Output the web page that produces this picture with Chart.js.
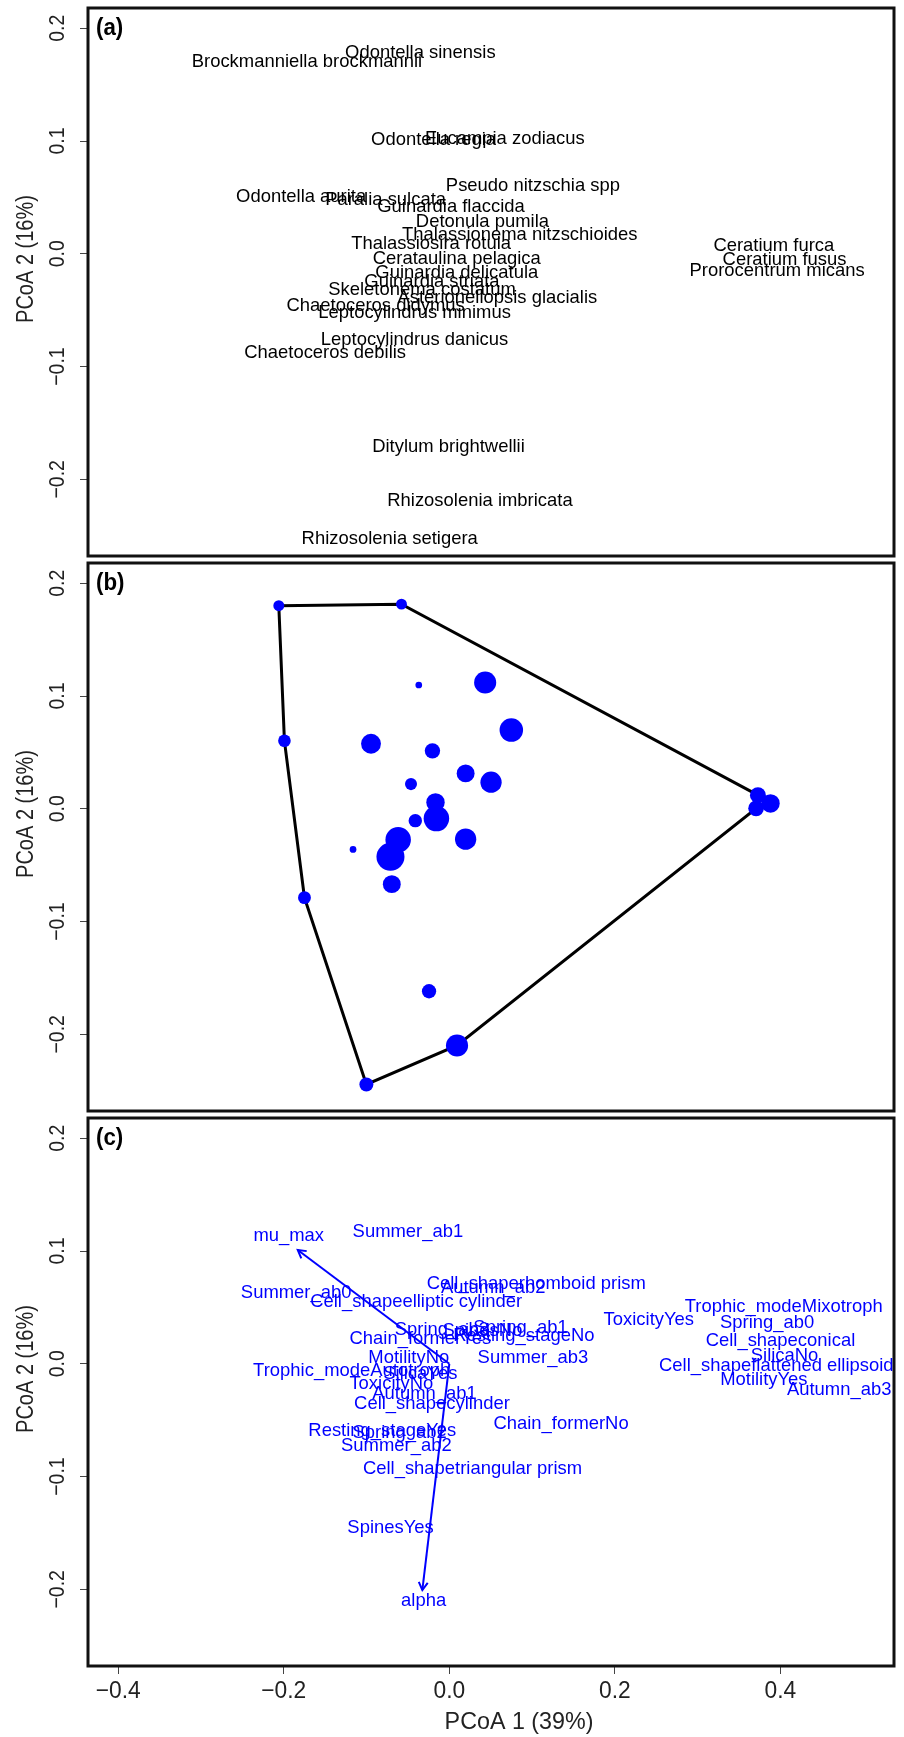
<!DOCTYPE html>
<html>
<head>
<meta charset="utf-8">
<title>PCoA of phytoplankton species and functional traits</title>
<script src="https://cdn.jsdelivr.net/npm/chart.js@4.4.1/dist/chart.umd.min.js"></script>
<style>
  html, body { margin: 0; padding: 0; background: #ffffff; }
  #figure { position: relative; width: 904px; height: 1737px; overflow: hidden; background: #fff; }
  #figure canvas { position: absolute; left: 0; }
</style>
</head>
<body>
<div id="figure">
  <canvas id="panelA" width="904" height="559" style="top:0px"></canvas>
  <canvas id="panelB" width="904" height="556" style="top:559px"></canvas>
  <canvas id="panelC" width="904" height="622" style="top:1115px"></canvas>
</div>
<script>
// ---------- shared axes ----------
const xRange = [-0.4365, 0.5372];
const yRange = [-0.268, 0.218];
const xTicks = [-0.4, -0.2, 0.0, 0.2, 0.4];
const xTickLabels = ['\u22120.4', '\u22120.2', '0.0', '0.2', '0.4'];
const yTicks = [-0.2, -0.1, 0.0, 0.1, 0.2];
const yTickLabels = ['\u22120.2', '\u22120.1', '0.0', '0.1', '0.2'];
const xTitle = 'PCoA 1 (39%)';
const yTitle = 'PCoA 2 (16%)';
const panelTags = ['(a)', '(b)', '(c)'];

// ---------- (a) species scores ----------
const speciesNames = [
  'Odontella sinensis', 'Brockmanniella brockmannii', 'Odontella regia', 'Eucampia zodiacus',
  'Pseudo nitzschia spp', 'Odontella aurita', 'Paralia sulcata', 'Guinardia flaccida',
  'Detonula pumila', 'Thalassionema nitzschioides', 'Thalassiosira rotula', 'Cerataulina pelagica',
  'Guinardia delicatula', 'Guinardia striata', 'Skeletonema costatum', 'Asterionellopsis glacialis',
  'Chaetoceros didymus', 'Leptocylindrus minimus', 'Leptocylindrus danicus', 'Chaetoceros debilis',
  'Ditylum brightwellii', 'Rhizosolenia imbricata', 'Rhizosolenia setigera',
  'Ceratium furca', 'Ceratium fusus', 'Prorocentrum micans'
];
const speciesPC1 = [
  -0.035, -0.172, -0.019, 0.067,
  0.101, -0.179, -0.077, 0.002,
  0.040, 0.085, -0.022, 0.009,
  0.009, -0.021, -0.033, 0.058,
  -0.089, -0.042, -0.042, -0.150,
  -0.001, 0.037, -0.072,
  0.392, 0.405, 0.396
];
const speciesPC2 = [
  0.178, 0.170, 0.101, 0.102,
  0.060, 0.051, 0.048, 0.042,
  0.028, 0.017, 0.009, -0.004,
  -0.017, -0.025, -0.032, -0.039,
  -0.046, -0.052, -0.076, -0.088,
  -0.171, -0.219, -0.253,
  0.007, -0.005, -0.015
];

// ---------- (b) species points, relative abundance, outline ----------
const pointPC1 = [
  -0.2060, -0.0578, -0.0369, 0.0433, 0.0749, -0.1992, -0.0946, -0.0204, 0.0197,
  -0.0463, 0.0504, -0.0167, -0.0156, -0.0411, -0.0618, -0.0711, -0.1163, 0.0197,
  -0.0695, -0.1750, -0.0245, 0.0093, -0.1002, 0.3728, 0.3706, 0.3880
];
const pointPC2 = [
  0.1801, 0.1815, 0.1098, 0.1120, 0.0698, 0.0603, 0.0577, 0.0514, 0.0314,
  0.0219, 0.0236, 0.0057, -0.0087, -0.0105, -0.0274, -0.0426, -0.0360, -0.0269,
  -0.0668, -0.0788, -0.1618, -0.2099, -0.2445, 0.0121, 0.0004, 0.0048
];
const pointAbundance = [
  0.39, 0.39, 0.24, 0.79, 0.84, 0.45, 0.71, 0.55, 0.64,
  0.43, 0.76, 0.66, 0.91, 0.48, 0.91, 1.00, 0.24, 0.76,
  0.64, 0.46, 0.51, 0.79, 0.50, 0.57, 0.56, 0.66
];
const hullOrder = [0, 1, 23, 24, 21, 22, 19, 5, 0];

// ---------- (c) trait scores ----------
const traitNames = [
  'mu_max', 'Summer_ab1', 'Cell_shaperhomboid prism', 'Autumn_ab2', 'Summer_ab0',
  'Cell_shapeelliptic cylinder', 'Trophic_modeMixotroph', 'ToxicityYes', 'Spring_ab0',
  'Spring_ab3', 'Spring_ab1', 'SpinesNo', 'Resting_stageNo', 'Chain_formerYes', 'Cell_shapeconical',
  'MotilityNo', 'Summer_ab3', 'SilicaNo', 'Cell_shapeflattened ellipsoid',
  'Trophic_modeAutotroph', 'SilicaYes', 'MotilityYes', 'ToxicityNo', 'Autumn_ab3',
  'Autumn_ab1', 'Cell_shapecylinder', 'Chain_formerNo', 'Resting_stageYes', 'Spring_ab2',
  'Summer_ab2', 'Cell_shapetriangular prism', 'SpinesYes', 'alpha'
];
const traitPC1 = [
  -0.194, -0.050, 0.105, 0.053, -0.185,
  -0.040, 0.404, 0.241, 0.384,
  -0.009, 0.086, 0.040, 0.090, -0.035, 0.400,
  -0.049, 0.101, 0.405, 0.395,
  -0.118, -0.035, 0.380, -0.070, 0.471,
  -0.030, -0.021, 0.135, -0.081, -0.060,
  -0.064, 0.028, -0.071, -0.031
];
const traitPC2 = [
  0.114, 0.117, 0.071, 0.067, 0.063,
  0.055, 0.051, 0.039, 0.036,
  0.030, 0.032, 0.029, 0.025, 0.022, 0.020,
  0.005, 0.005, 0.007, -0.002,
  -0.006, -0.009, -0.014, -0.018, -0.023,
  -0.027, -0.035, -0.053, -0.059, -0.061,
  -0.073, -0.093, -0.145, -0.210
];
// continuous traits fitted as vectors from the origin
const vectorNames = ['mu_max', 'alpha'];
const vectorPC1 = [-0.1831, -0.0326];
const vectorPC2 = [0.1009, -0.2007];

// ---------- drawing helpers ----------
const FONT = '"Liberation Sans", Arial, Helvetica, sans-serif';
const TEXT_SX = 0.97;      // horizontal glyph scale for running text
const ROT_SX = 1.16;       // glyph-height scale for text set along the y axis
const LABEL_PX = 19;
const AXIS_PX = 23.5;
const TITLE_PX = 24;
const YAXIS_PX = 19.5;
const YTITLE_PX = 20;
const TAG_PX = 23;
const BLUE = '#0000ff';
const MAX_R = 14;

function putText(ctx, str, x, y, size, o = {}) {
  ctx.save();
  ctx.translate(x, y);
  ctx.scale(o.sx || TEXT_SX, 1);
  if (o.rotate) ctx.rotate(o.rotate);
  ctx.font = (o.bold ? 'bold ' : '') + size + 'px ' + FONT;
  ctx.fillStyle = o.color || '#000';
  ctx.textAlign = o.align || 'center';
  ctx.textBaseline = 'middle';
  ctx.fillText(str, 0, 0);
  ctx.restore();
}

const panelFrame = {
  id: 'panelFrame',
  afterDraw(chart, args, o) {
    const { ctx, chartArea: a } = chart;
    const ys = chart.scales.y, xs = chart.scales.x;
    ctx.save();
    ctx.lineWidth = 3;
    ctx.strokeStyle = '#111';
    ctx.strokeRect(a.left, a.top, a.right - a.left, a.bottom - a.top);
    ctx.restore();
    const up = -Math.PI / 2;
    yTicks.forEach((v, i) =>
      putText(ctx, yTickLabels[i], 58, ys.getPixelForValue(v), YAXIS_PX, { rotate: up, sx: ROT_SX, color: '#222' }));
    putText(ctx, yTitle, 27, (a.top + a.bottom) / 2 - 23, YTITLE_PX, { rotate: up, sx: ROT_SX, color: '#222' });
    putText(ctx, o.tag, a.left + 8, ys.getPixelForValue(0.2), TAG_PX, { bold: true, align: 'left' });
    if (o.xAxis) {
      xTicks.forEach((v, i) =>
        putText(ctx, xTickLabels[i], xs.getPixelForValue(v), a.bottom + 26, AXIS_PX, { color: '#222' }));
      putText(ctx, xTitle, 519, a.bottom + 56, TITLE_PX, { color: '#222' });
    }
  }
};

const pointLabels = {
  id: 'pointLabels',
  afterDatasetsDraw(chart, args, o) {
    if (!o || !o.texts) return;
    const meta = chart.getDatasetMeta(o.datasetIndex);
    meta.data.forEach((pt, i) => putText(chart.ctx, o.texts[i], pt.x, pt.y, LABEL_PX, { color: o.color }));
  }
};

const arrowHeads = {
  id: 'arrowHeads',
  afterDatasetsDraw(chart) {
    const ctx = chart.ctx;
    chart.data.datasets.forEach((ds, di) => {
      if (!ds.arrow) return;
      const pts = chart.getDatasetMeta(di).data;
      const p0 = pts[0], p1 = pts[pts.length - 1];
      const ang = Math.atan2(p1.y - p0.y, p1.x - p0.x);
      const L = 9, w = Math.PI / 6;
      ctx.save();
      ctx.strokeStyle = ds.borderColor;
      ctx.lineWidth = 2;
      ctx.beginPath();
      ctx.moveTo(p1.x - L * Math.cos(ang - w), p1.y - L * Math.sin(ang - w));
      ctx.lineTo(p1.x, p1.y);
      ctx.lineTo(p1.x - L * Math.cos(ang + w), p1.y - L * Math.sin(ang + w));
      ctx.stroke();
      ctx.restore();
    });
  }
};

function axisOptions(showX) {
  const grid = { drawOnChartArea: false, drawTicks: true, tickLength: 8, color: '#444', lineWidth: 1 };
  const x = {
    type: 'linear', min: xRange[0], max: xRange[1], display: showX,
    afterBuildTicks: s => { s.ticks = xTicks.map(v => ({ value: v })); },
    grid, border: { display: false }, ticks: { display: false }
  };
  if (showX) x.afterFit = s => { s.height = 71; };
  return {
    x,
    y: {
      type: 'linear', min: yRange[0], max: yRange[1],
      afterBuildTicks: s => { s.ticks = yTicks.map(v => ({ value: v })); },
      afterFit: s => { s.width = 88; },
      grid, border: { display: false }, ticks: { display: false }
    }
  };
}

function baseOptions(tag, showX, padTop, padBottom, labels) {
  return {
    responsive: false, maintainAspectRatio: false, animation: false, devicePixelRatio: 1, events: [],
    layout: { autoPadding: false, padding: { left: 0, right: 10, top: padTop, bottom: padBottom } },
    plugins: {
      legend: { display: false }, tooltip: { enabled: false },
      panelFrame: { tag, xAxis: showX },
      pointLabels: labels || {}
    },
    scales: axisOptions(showX)
  };
}

const zip = (xs, ys) => xs.map((v, i) => ({ x: v, y: ys[i] }));

// (a) species names at their scores
new Chart(document.getElementById('panelA'), {
  type: 'scatter',
  data: { datasets: [{ data: zip(speciesPC1, speciesPC2), pointRadius: 0 }] },
  options: baseOptions(panelTags[0], false, 8, 3,
    { datasetIndex: 0, texts: speciesNames, color: '#000' }),
  plugins: [panelFrame, pointLabels]
});

// (b) species points sized by abundance with their outline
new Chart(document.getElementById('panelB'), {
  type: 'scatter',
  data: {
    datasets: [
      {
        type: 'bubble',
        data: pointPC1.map((v, i) => ({ x: v, y: pointPC2[i], r: pointAbundance[i] * MAX_R })),
        backgroundColor: BLUE, borderWidth: 0, hoverRadius: 0
      },
      {
        type: 'line',
        data: hullOrder.map(i => ({ x: pointPC1[i], y: pointPC2[i] })),
        borderColor: '#000', borderWidth: 3, pointRadius: 0, fill: false, tension: 0
      }
    ]
  },
  options: baseOptions(panelTags[1], false, 4, 4),
  plugins: [panelFrame]
});

// (c) trait scores with fitted vectors
const vectorSets = vectorNames.map((n, i) => ({
  type: 'line', label: n, arrow: true,
  data: [{ x: 0, y: 0 }, { x: vectorPC1[i], y: vectorPC2[i] }],
  borderColor: BLUE, borderWidth: 2, pointRadius: 0, fill: false, tension: 0
}));
new Chart(document.getElementById('panelC'), {
  type: 'scatter',
  data: {
    datasets: [{ data: zip(traitPC1, traitPC2), pointRadius: 0 }, ...vectorSets]
  },
  options: baseOptions(panelTags[2], true, 3, 0,
    { datasetIndex: 0, texts: traitNames, color: BLUE }),
  plugins: [arrowHeads, pointLabels, panelFrame]
});
</script>
</body>
</html>
